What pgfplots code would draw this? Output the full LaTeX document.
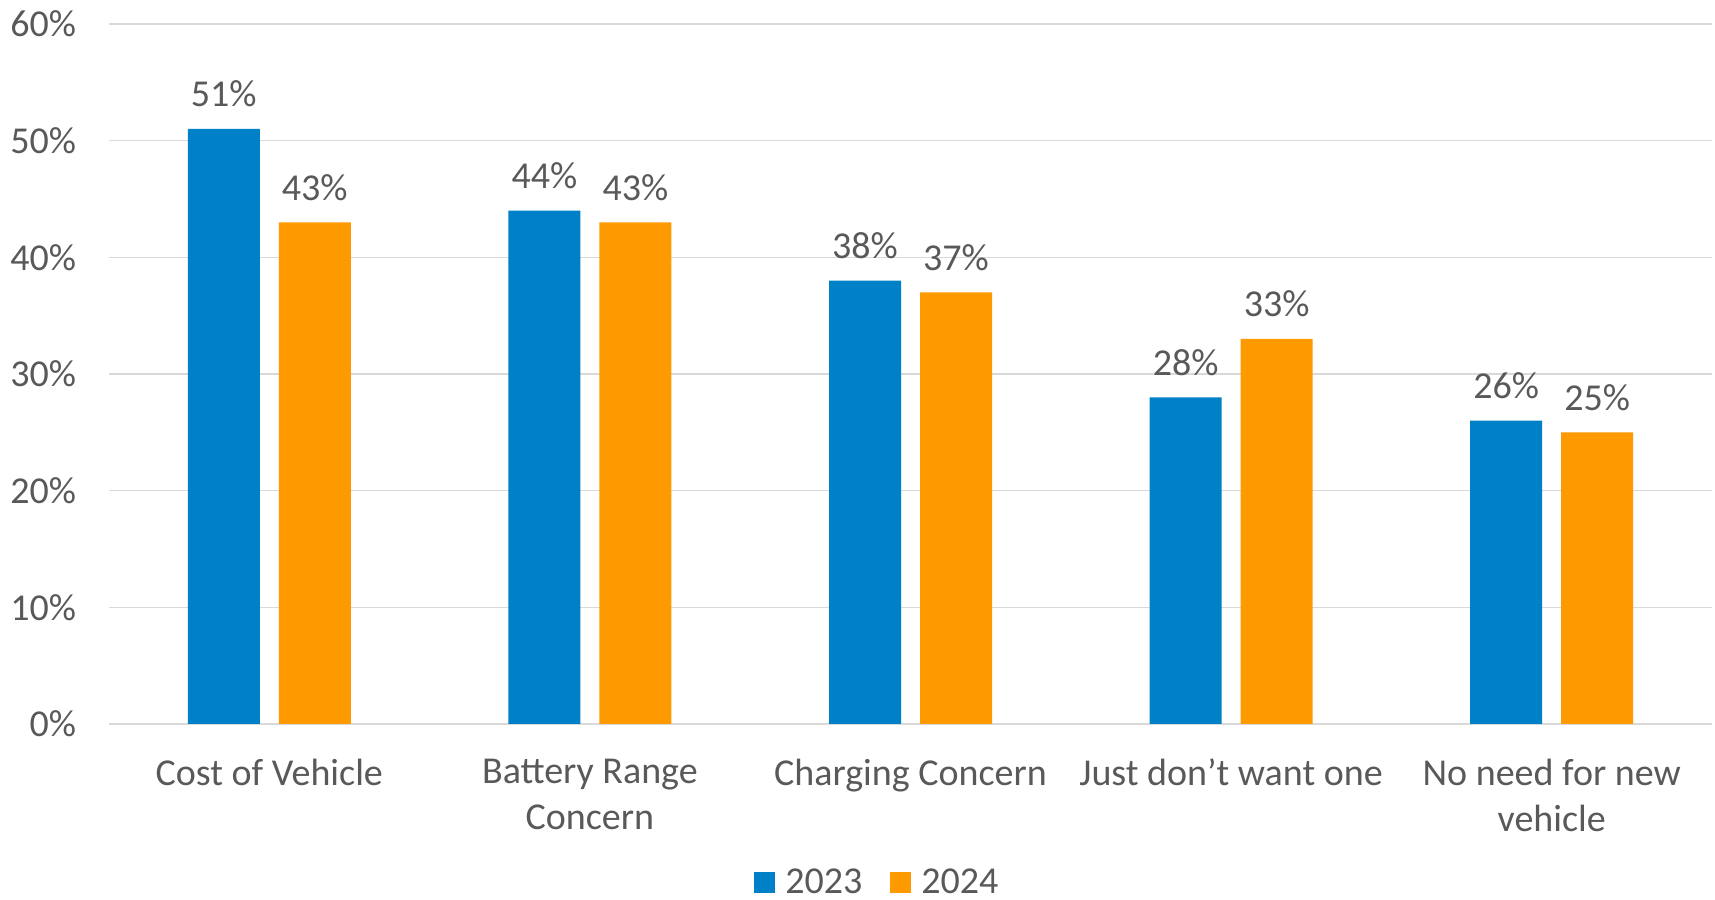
\documentclass[border=0pt]{standalone}
\usepackage{pgfplots}
\pgfplotsset{compat=1.18}
\usepackage{fontspec}
\setmainfont{Carlito}
\definecolor{cblue}{HTML}{0080C6}
\definecolor{corange}{HTML}{FF9900}
\definecolor{tgray}{HTML}{595959}
\definecolor{ggray}{HTML}{D9D9D9}
\begin{document}
\begin{tikzpicture}
\path[use as bounding box] (0,0) rectangle (857.5pt,450pt);
\begin{axis}[
  at={(54.5pt,88pt)}, anchor=south west,
  scale only axis, width=801.5pt, height=350pt,
  xmin=-0.5, xmax=4.5, ymin=0, ymax=60,
  ybar, bar width=36pt,
  xtick={0,1,2,3,4},
  xticklabels={Cost of Vehicle,{Battery Range\\Concern},Charging Concern,{Just don’t want one},{No need for new\\vehicle}},
  xticklabel style={align=center, font=\fontsize{19}{23}\selectfont, text=tgray, yshift=-14pt},
  ytick={0,10,...,60},
  yticklabel={\pgfmathprintnumber{\tick}\%},
  yticklabel style={font=\fontsize{19}{22}\selectfont, text=tgray, xshift=-13pt},
  /pgf/number format/assume math mode=true,
  major tick length=0pt,
  axis line style={draw=none},
  ymajorgrids, grid style={ggray, line width=0.75pt},
  nodes near coords={\pgfmathprintnumber{\pgfplotspointmeta}\%},
  every node near coord/.append style={font=\fontsize{19}{22}\selectfont, text=tgray, anchor=base, yshift=11pt},
  legend columns=2,
  legend style={at={(0.48,-0.227)}, anchor=center, draw=none, fill=none,
    font=\fontsize{19}{22}\selectfont, text=tgray, inner sep=0pt,
    nodes={inner ysep=0.5pt},
    /tikz/every odd column/.append style={column sep=3pt},
    /tikz/every even column/.append style={column sep=12pt}},
  legend image code/.code={\fill[#1] (0pt,-5.25pt) rectangle (10.5pt,5.25pt);},
  clip=false,
]
\addplot[fill=cblue, draw=none, bar shift=-22.75pt] coordinates {(0,51) (1,44) (2,38) (3,28) (4,26)};
\addplot[fill=corange, draw=none, bar shift=22.75pt] coordinates {(0,43) (1,43) (2,37) (3,33) (4,25)};
\legend{2023,2024}
\end{axis}
\end{tikzpicture}
\end{document}
